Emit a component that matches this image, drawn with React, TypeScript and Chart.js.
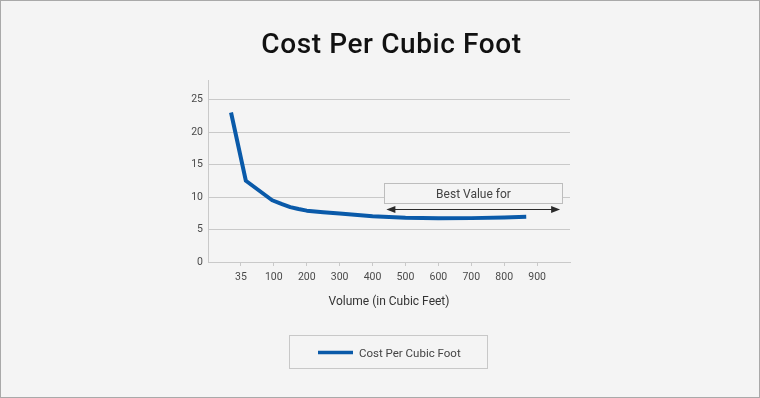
import React, { useEffect, useRef } from 'react';
import { Chart, registerables } from 'chart.js';

Chart.register(...registerables);

const chartTitle = 'Cost Per Cubic Foot';
const seriesLabel = 'Cost Per Cubic Foot';
const xAxisTitle = 'Volume (in Cubic Feet)';
const bestValueLabel = 'Best Value for';
const xTickLabels = ['35', '100', '200', '300', '400', '500', '600', '700', '800', '900'];
const yTickValues = [0, 5, 10, 15, 20, 25];
// horizontal position of each curve point, in tick-slot units (0 = "35", 1 = "100", ...)
const curveSlots = [-0.3, 0.15, 0.95, 1.25, 1.5, 1.75, 2, 2.5, 3, 4, 5, 6, 7, 8, 8.67];
const costValues = [23, 12.5, 9.5, 8.9, 8.45, 8.15, 7.9, 7.65, 7.45, 7.05, 6.82, 6.72, 6.75, 6.85, 6.95];

const SERIES_COLOR = '#0a5aa9';
const GRID_COLOR = '#c9c9c9';
const FONT = 'Roboto, "Noto Sans", sans-serif';

const decorPlugin = {
  id: 'decor',
  beforeDraw(chart: any) {
    const { ctx, width, height } = chart;
    ctx.save();
    ctx.fillStyle = '#f4f4f4';
    ctx.fillRect(0, 0, width, height);
    ctx.restore();
  },
  afterDatasetsDraw(chart: any) {
    const { ctx } = chart;
    const xs = chart.scales.x;
    const ys = chart.scales.y;
    ctx.save();
    // Best value box
    const bx1 = Math.round(xs.getPixelForValue(4.35)) + 0.5;
    const bx2 = Math.round(xs.getPixelForValue(9.75)) + 0.5;
    const by1 = Math.round(ys.getPixelForValue(12.1)) + 0.5;
    const by2 = Math.round(ys.getPixelForValue(9.05)) + 0.5;
    ctx.fillStyle = '#f4f4f4';
    ctx.fillRect(bx1, by1, bx2 - bx1, by2 - by1);
    ctx.strokeStyle = '#bdbdbd';
    ctx.lineWidth = 1;
    ctx.strokeRect(bx1, by1, bx2 - bx1, by2 - by1);
    ctx.fillStyle = '#444';
    ctx.font = `12px ${FONT}`;
    ctx.textAlign = 'center';
    ctx.textBaseline = 'alphabetic';
    ctx.fillText(bestValueLabel, (bx1 + bx2) / 2, by1 + 14);
    // arrow
    const ay = Math.round(ys.getPixelForValue(8.15)) + 0.5;
    const ax1 = xs.getPixelForValue(4.42);
    const ax2 = xs.getPixelForValue(9.7);
    ctx.strokeStyle = '#2a2a2a';
    ctx.lineWidth = 1.2;
    ctx.beginPath();
    ctx.moveTo(ax1 + 4, ay);
    ctx.lineTo(ax2 - 4, ay);
    ctx.stroke();
    ctx.fillStyle = '#2a2a2a';
    ctx.beginPath();
    ctx.moveTo(ax1, ay);
    ctx.lineTo(ax1 + 9, ay - 3.5);
    ctx.lineTo(ax1 + 9, ay + 3.5);
    ctx.closePath();
    ctx.fill();
    ctx.beginPath();
    ctx.moveTo(ax2, ay);
    ctx.lineTo(ax2 - 9, ay - 3.5);
    ctx.lineTo(ax2 - 9, ay + 3.5);
    ctx.closePath();
    ctx.fill();
    ctx.restore();
  },
  afterDraw(chart: any) {
    const { ctx, width, height } = chart;
    ctx.save();
    // title
    ctx.fillStyle = '#111';
    ctx.font = `500 28px ${FONT}`;
    try {
      (ctx as any).letterSpacing = '0.6px';
    } catch (e) {
      /* ignore */
    }
    ctx.textAlign = 'center';
    ctx.textBaseline = 'alphabetic';
    ctx.fillText(chartTitle, 391.5, 53);
    try {
      (ctx as any).letterSpacing = '0px';
    } catch (e) {
      /* ignore */
    }
    // legend
    const ds = chart.data.datasets[0];
    ctx.strokeStyle = '#c8c8c8';
    ctx.lineWidth = 1;
    ctx.strokeRect(289.5, 335.5, 198, 33);
    ctx.strokeStyle = ds.borderColor;
    ctx.lineWidth = 3.5;
    ctx.beginPath();
    ctx.moveTo(318, 352.5);
    ctx.lineTo(353, 352.5);
    ctx.stroke();
    ctx.fillStyle = '#444';
    ctx.font = `11.5px ${FONT}`;
    ctx.textAlign = 'left';
    ctx.fillText(ds.label, 359, 357);
    // outer border
    ctx.strokeStyle = '#a9a9a9';
    ctx.lineWidth = 1;
    ctx.strokeRect(0.5, 0.5, width - 1, height - 1);
    ctx.restore();
  },
};

export default function App() {
  const canvasRef = useRef<HTMLCanvasElement | null>(null);

  useEffect(() => {
    const canvas = canvasRef.current;
    if (!canvas) return;
    const points = curveSlots.map((x, i) => ({ x, y: costValues[i] }));
    const chart = new Chart(canvas, {
      type: 'line',
      data: {
        datasets: [
          {
            label: seriesLabel,
            data: points,
            borderColor: SERIES_COLOR,
            backgroundColor: SERIES_COLOR,
            borderWidth: 4,
            pointRadius: 0,
            tension: 0,
            borderJoinStyle: 'round',
            borderCapStyle: 'butt',
          },
        ],
      },
      options: {
        animation: false,
        responsive: false,
        devicePixelRatio: 1,
        layout: { padding: { left: 0, right: 190, top: 80, bottom: 86 } },
        plugins: {
          legend: { display: false },
          title: { display: false },
          tooltip: { enabled: false },
        },
        scales: {
          x: {
            type: 'linear',
            min: -1,
            max: 10,
            afterBuildTicks: (scale: any) => {
              scale.ticks = xTickLabels.map((_, i) => ({ value: i }));
            },
            afterFit: (scale: any) => {
              scale.height = 50;
            },
            ticks: {
              callback: (v: any) => xTickLabels[v] ?? '',
              color: '#4a4a4a',
              font: { family: FONT, size: 10.5 },
              padding: 5,
              maxRotation: 0,
              autoSkip: false,
            },
            grid: {
              drawOnChartArea: false,
              drawTicks: true,
              tickLength: 4,
              color: GRID_COLOR,
            },
            border: { display: true, color: GRID_COLOR },
            title: {
              display: true,
              text: xAxisTitle,
              color: '#333',
              font: { family: FONT, size: 12 },
              padding: { top: 0, bottom: 3 },
            },
          },
          y: {
            type: 'linear',
            min: 0,
            max: 28,
            afterBuildTicks: (scale: any) => {
              scale.ticks = yTickValues.map((v) => ({ value: v }));
            },
            afterFit: (scale: any) => {
              scale.width = 208;
            },
            ticks: {
              color: '#4a4a4a',
              font: { family: FONT, size: 10.5 },
              padding: 5,
            },
            grid: {
              drawTicks: false,
              color: GRID_COLOR,
            },
            border: { display: true, color: GRID_COLOR },
          },
        },
      },
      plugins: [decorPlugin],
    });
    return () => chart.destroy();
  }, []);

  return (
    <div style={{ position: 'absolute', left: 0, top: 0, width: 760, height: 398 }}>
      <canvas ref={canvasRef} width={760} height={398} style={{ display: 'block' }} />
    </div>
  );
}
